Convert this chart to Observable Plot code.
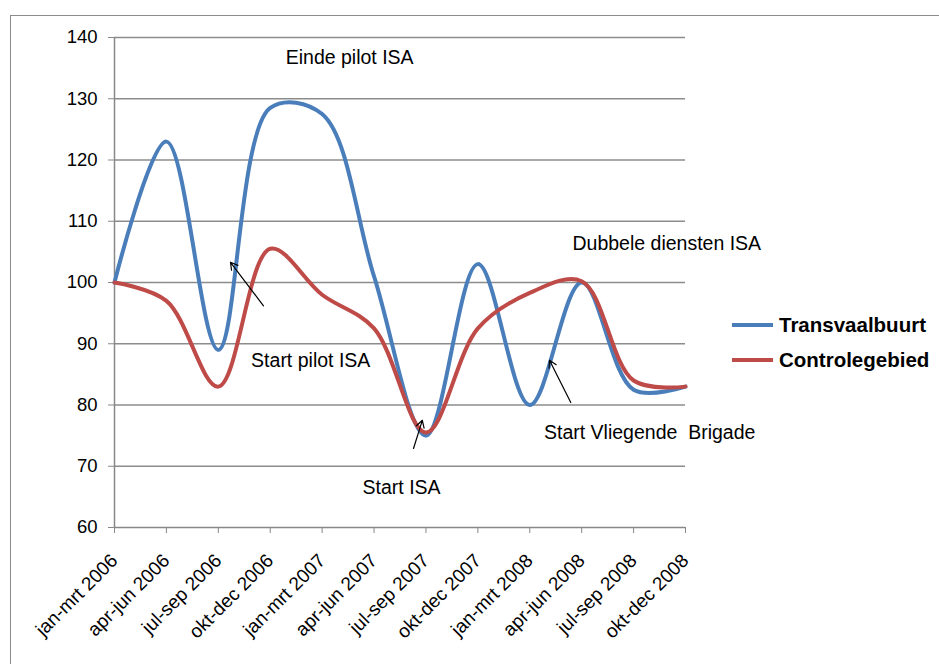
<!DOCTYPE html>
<html>
<head>
<meta charset="utf-8">
<script src="https://cdn.jsdelivr.net/npm/d3@7"></script>
<script src="https://cdn.jsdelivr.net/npm/@observablehq/plot@0.6"></script>
<style>
  body { margin: 0; background: #fff; font-family: "Liberation Sans", Arial, sans-serif; }
  #wrap { position: relative; width: 939px; height: 664px; overflow: hidden; }
  #border { position: absolute; left: 10px; top: 15px; width: 1000px; height: 700px; border: 1px solid #8c8c8c; box-sizing: border-box; }
  #chart { position: absolute; left: 0; top: 0; }
  .leg { position: absolute; left: 732px; display: flex; align-items: center; font-weight: bold; font-size: 20.5px; color: #000; }
  .leg span.sw { display: inline-block; width: 41px; height: 4px; margin-right: 6px; }
</style>
</head>
<body>
<div id="wrap">
  <div id="border"></div>
  <div id="chart"></div>
  <div id="legend"></div>
</div>
<script>
const categories = ["jan-mrt 2006","apr-jun 2006","jul-sep 2006","okt-dec 2006","jan-mrt 2007","apr-jun 2007","jul-sep 2007","okt-dec 2007","jan-mrt 2008","apr-jun 2008","jul-sep 2008","okt-dec 2008"];
const transvaalbuurt = [100, 123, 89, 128.5, 127.5, 101, 75, 103, 80, 100, 82.5, 83];
const controlegebied = [100, 97, 83, 105.5, 98, 92.5, 75.5, 92.5, 98.3, 100.2, 84, 83];
const seriesNames = ["Transvaalbuurt", "Controlegebied"];
const seriesColors = ["#4A7EBB", "#BE4B48"];
const yTicks = [60, 70, 80, 90, 100, 110, 120, 130, 140];

// annotations (x in category index units, y in chart values)
const notes = [
  {text: "Einde pilot ISA", x: 4.53, y: 136.7},
  {text: "Start pilot ISA", x: 3.78, y: 87.3},
  {text: "Dubbele diensten ISA", x: 10.64, y: 106.4},
  {text: "Start ISA", x: 5.53, y: 66.5},
  {text: "Start Vliegende  Brigade", x: 10.31, y: 75.5}
];
const arrows = [
  {x1: 2.87, y1: 96.2, x2: 2.235, y2: 103.3},
  {x1: 5.76, y1: 72.9, x2: 5.93, y2: 77.5},
  {x1: 8.79, y1: 80.4, x2: 8.38, y2: 87.3}
];

const rows = [];
categories.forEach((c, i) => {
  rows.push({i, series: seriesNames[0], v: transvaalbuurt[i]});
  rows.push({i, series: seriesNames[1], v: controlegebied[i]});
});

const plot = Plot.plot({
  width: 939,
  height: 664,
  marginLeft: 114,
  marginRight: 254,
  marginTop: 37,
  marginBottom: 137,
  style: {fontFamily: "'Liberation Sans', Arial, sans-serif", fontSize: "18px", color: "#000", background: "transparent", overflow: "visible"},
  x: {type: "linear", domain: [0, categories.length - 1]},
  y: {domain: [60, 140]},
  color: {domain: seriesNames, range: seriesColors},
  marks: [
    Plot.ruleY(yTicks.filter(d => d > 60), {stroke: "#8c8c8c", strokeWidth: 1.3, strokeOpacity: 1}),
    Plot.ruleY([60], {stroke: "#888", strokeWidth: 1.5}),
    Plot.ruleX([0], {stroke: "#888", strokeWidth: 1.5}),
    Plot.axisY({ticks: yTicks, tickSize: 6, tickPadding: 11, stroke: "#888", strokeOpacity: 1, fontSize: 18.5, label: null}),
    Plot.axisX({ticks: d3.range(categories.length), tickFormat: i => categories[i], tickSize: 6, tickPadding: 24, tickRotate: -45, stroke: "#888", strokeOpacity: 1, fontSize: 19, label: null}),
    Plot.line(rows, {x: "i", y: "v", z: "series", stroke: "series", strokeWidth: 4, curve: "catmull-rom"}),
    Plot.arrow(arrows, {x1: "x1", y1: "y1", x2: "x2", y2: "y2", stroke: "#000", strokeWidth: 1.2, headLength: 10}),
    Plot.text(notes, {x: "x", y: "y", text: "text", fontSize: 19.5, fill: "#000"})
  ]
});
document.getElementById("chart").appendChild(plot);

const legend = document.getElementById("legend");
const legendY = [325, 360];
seriesNames.forEach((name, k) => {
  const d = document.createElement("div");
  d.className = "leg";
  d.style.top = (legendY[k] - 12) + "px";
  d.style.height = "24px";
  d.innerHTML = `<span class="sw" style="background:${seriesColors[k]}"></span>${name}`;
  legend.appendChild(d);
});
</script>
</body>
</html>
